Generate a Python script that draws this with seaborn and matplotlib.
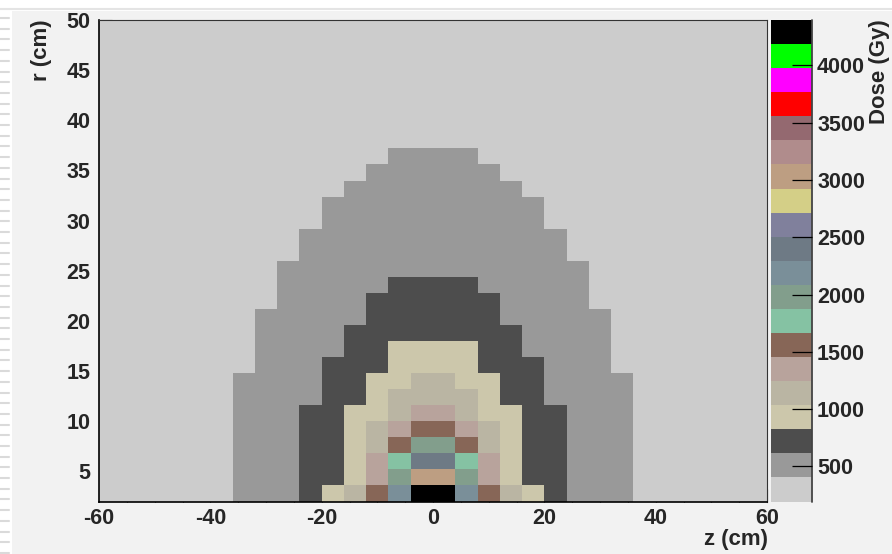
import numpy as np
import pandas as pd
import matplotlib
matplotlib.use("Agg")
import matplotlib.pyplot as plt
import seaborn as sns
from matplotlib.colors import ListedColormap, BoundaryNorm
from matplotlib.patches import Rectangle
from matplotlib.lines import Line2D

# ---------------- data ----------------
# z axis: 30 bins of 4 cm from -60 to 60 ; r axis: 30 bins of 1.6 cm from 2 to 50
z_min, z_max, z_bin = -60, 60, 4
r_min, r_max, r_bin = 2.0, 50.0, 1.6

# colour-level of every cell (0..19, written 0-9,a-j), top row = r bin 29, bottom row = r bin 0
dose_level_rows = [
    "000000000000000000000000000000",  # r 48.4-50
    "000000000000000000000000000000",
    "000000000000000000000000000000",
    "000000000000000000000000000000",
    "000000000000000000000000000000",
    "000000000000000000000000000000",
    "000000000000000000000000000000",
    "000000000000000000000000000000",
    "000000000000011110000000000000",  # row 21
    "000000000000111111000000000000",
    "000000000001111111100000000000",
    "000000000011111111110000000000",
    "000000000011111111110000000000",
    "000000000111111111111000000000",
    "000000000111111111111000000000",
    "000000001111111111111100000000",  # row 14
    "000000001111122221111100000000",
    "000000001111222222111100000000",
    "000000011111222222111110000000",
    "000000011112222222211110000000",
    "000000011112233332211110000000",  # row 9
    "000000011122233332221110000000",
    "000000111122334433221111000000",
    "000000111122344443221111000000",
    "000000111223345543322111000000",  # row 5
    "000000111223456654322111000000",
    "000000111223468864322111000000",
    "00000011122357aa75322111000000",
    "00000011122358dd85322111000000",
    "00000011123469jj96432111000000",  # row 0 (r 2-3.6)
]

# colour scale of the dose axis (20 ROOT contour levels)
dose_min, dose_max, n_levels = 194.0, 4396.0, 20
level_colors = ["#cccccc", "#999999", "#4d4d4d", "#ccc7ab", "#bab5a3",
                "#b8a39c", "#876657", "#85c2a3", "#829e8c", "#7a8f99",
                "#6e7a85", "#80809c", "#d4cf87", "#bd9e82", "#b08c8c",
                "#946970", "#ff0000", "#ff00ff", "#00ff00", "#000000"]

x_major = [-60, -40, -20, 0, 20, 40, 60]
y_major = [5, 10, 15, 20, 25, 30, 35, 40, 45, 50]
cbar_ticks = [500, 1000, 1500, 2000, 2500, 3000, 3500, 4000]

# ---------------- build table ----------------
for row in dose_level_rows:
    assert len(row) == 30
bounds = np.linspace(dose_min, dose_max, n_levels + 1)
step = bounds[1] - bounds[0]
levels = np.array([[int(c, 36) for c in row] for row in dose_level_rows[::-1]])
dose = bounds[levels] + 0.5 * step
z_centers = np.arange(z_min, z_max, z_bin) + z_bin / 2
r_centers = np.round(r_min + r_bin * (np.arange(30) + 0.5), 2)
df = pd.DataFrame(dose, index=r_centers, columns=z_centers)

# ---------------- figure ----------------
sns.set_theme(style="white")
plt.rcParams['font.family'] = ['Liberation Sans', 'DejaVu Sans']
plt.rcParams['font.weight'] = 'bold'

W, H = 892, 554
fig = plt.figure(figsize=(W / 100, H / 100), dpi=100, facecolor='#f2f2f2')

# window decorations
fig.patches.append(Rectangle((0, 1 - 11 / H), 1, 11 / H, transform=fig.transFigure,
                             facecolor='white', edgecolor='none', zorder=0))
fig.patches.append(Rectangle((0, 0), 12 / W, 1, transform=fig.transFigure,
                             facecolor='white', edgecolor='none', zorder=0))
fig.lines.append(Line2D([0, 1], [1 - 9 / H, 1 - 9 / H], transform=fig.transFigure,
                        color='#e4e4e4', lw=1.5))
for yy in np.arange(18, H, 10.7):
    fig.lines.append(Line2D([0, 9 / W], [1 - yy / H, 1 - yy / H], transform=fig.transFigure,
                            color='#dadada', lw=1.5))

ax = fig.add_axes([99 / W, 1 - 501.5 / H, 668 / W, 481.5 / H])
cax = fig.add_axes([771 / W, 1 - 501.5 / H, 40.5 / W, 481.5 / H])

cmap = ListedColormap(level_colors)
norm = BoundaryNorm(bounds, cmap.N)
sns.heatmap(df, ax=ax, cmap=cmap, norm=norm, cbar_ax=cax,
            xticklabels=False, yticklabels=False,
            cbar_kws={'ticks': cbar_ticks, 'spacing': 'proportional'})
ax.invert_yaxis()
ax.set_xlabel('')
ax.set_ylabel('')

# axis ticks in data units mapped to heatmap cells
def zpos(z):
    return (z - z_min) / z_bin

def rpos(r):
    return (r - r_min) / r_bin

ax.set_xticks([zpos(z) for z in x_major])
ax.set_xticklabels([str(z) for z in x_major], rotation=0)
ax.set_xticks([zpos(z) for z in range(-55, 60, 5) if z % 20 != 0], minor=True)
ax.set_yticks([rpos(r) for r in y_major])
ax.set_yticklabels([str(r) for r in y_major], rotation=0)
ax.set_yticks([rpos(r) for r in range(3, 50) if r % 5 != 0], minor=True)

ax.tick_params(which='both', direction='in', bottom=True, left=True, top=False, right=False,
               color='black', width=0.8)
ax.tick_params(which='major', length=9.4, labelsize=15.5, pad=5)
ax.tick_params(which='minor', length=4.5)
ax.tick_params(axis='y', which='major', pad=6)
for lab in ax.get_xticklabels() + ax.get_yticklabels():
    lab.set_fontweight('bold')

for side in ['left', 'bottom', 'top', 'right']:
    ax.spines[side].set_visible(True)
    ax.spines[side].set_color('black' if side in ('left', 'bottom') else '#333333')
    ax.spines[side].set_linewidth(1.2 if side in ('left', 'bottom') else 0.8)

# colour bar
cbar = ax.collections[0].colorbar
cbar.minorticks_off()
cbar.outline.set_visible(False)
cax.set_axisbelow(False)
if cbar.solids is not None:
    cbar.solids.set_zorder(0)
cax.tick_params(which='major', direction='in', length=14.4, width=0.9, color='black',
                labelsize=15.5, pad=4, right=True, left=False)
cax.tick_params(which='minor', length=0, width=0)
for lab in cax.get_yticklabels():
    lab.set_fontweight('bold')
cax.add_line(Line2D([1, 1], [0, 1], transform=cax.transAxes, color='#444444',
                    lw=1.3, clip_on=False))

# titles
fig.text(879 / W, 1 - 19 / H, 'Dose (Gy)', rotation=90, ha='center', va='top',
         fontsize=16, fontweight='bold')
fig.text(41 / W, 1 - 19 / H, 'r (cm)', rotation=90, ha='center', va='top',
         fontsize=16, fontweight='bold')
fig.text(768 / W, 1 - 540 / H, 'z (cm)', ha='right', va='center',
         fontsize=16, fontweight='bold')

fig.savefig('out.png', dpi=100, facecolor=fig.get_facecolor())
